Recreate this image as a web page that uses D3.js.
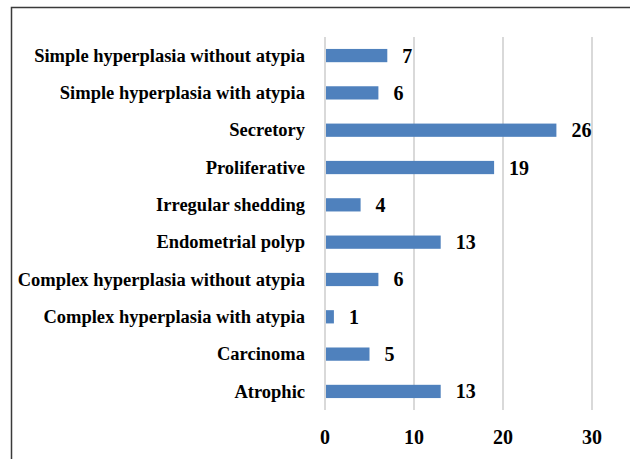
<!DOCTYPE html>
<html><head><meta charset="utf-8">
<script src="https://cdn.jsdelivr.net/npm/d3@7"></script>
<style>body{margin:0;background:#fff}svg{display:block}text{font-family:'Liberation Serif','Times New Roman',Tinos,serif;font-weight:bold}</style>
</head><body>
<script>
const categories = ["Simple hyperplasia without atypia","Simple hyperplasia with atypia","Secretory","Proliferative","Irregular shedding","Endometrial polyp","Complex hyperplasia without atypia","Complex hyperplasia with atypia","Carcinoma","Atrophic"];
const values = [7,6,26,19,4,13,6,1,5,13];
const tickValues = [0,10,20,30];

const W=630,H=459;
const svg=d3.select("body").append("svg").attr("width",W).attr("height",H);
svg.append("rect").attr("x",11.5).attr("y",7.5).attr("width",W).attr("height",H).attr("fill","#fff").attr("stroke","#3a3a3a").attr("stroke-width",1.5);

const x=d3.scaleLinear().domain([0,30]).range([325,592]);
const y=d3.scaleBand().domain(categories).range([37,410]).paddingInner(0.645).paddingOuter(0.32);

svg.append("g").selectAll("line").data(tickValues).join("line")
  .attr("x1",d=>x(d)).attr("x2",d=>x(d)).attr("y1",37).attr("y2",410)
  .attr("stroke","#d9d9d9").attr("stroke-width",2);

svg.append("g").selectAll("rect").data(values).join("rect")
  .attr("x",x(0)+1).attr("y",(d,i)=>y(categories[i]))
  .attr("width",d=>x(d)-x(0)-1).attr("height",y.bandwidth()).attr("fill","#4f81bd");

svg.append("g").selectAll("text").data(values).join("text")
  .attr("x",d=>x(d)+15).attr("y",(d,i)=>y(categories[i])+y.bandwidth()/2)
  .attr("dy","0.35em").style("font-size","20px")
  .text(d=>d);

svg.append("g").selectAll("text").data(categories).join("text")
  .attr("x",305).attr("y",d=>y(d)+y.bandwidth()/2).attr("dy","0.33em")
  .attr("text-anchor","end").style("font-size","18.5px")
  .text(d=>d);

svg.append("g").selectAll("text").data(tickValues).join("text")
  .attr("x",d=>x(d)).attr("y",437).attr("dy","0.35em").attr("text-anchor","middle")
  .style("font-size","20px")
  .text(d=>d);
</script>
</body></html>
